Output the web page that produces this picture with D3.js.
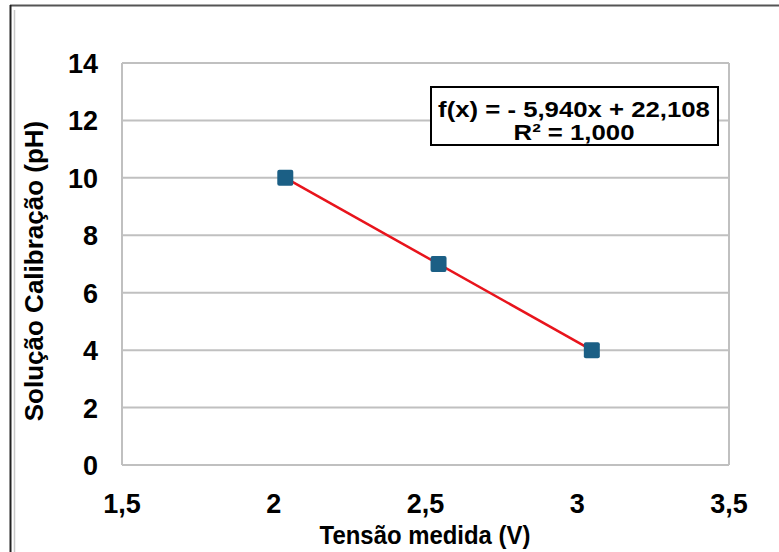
<!DOCTYPE html>
<html lang="pt">
<head>
<meta charset="utf-8">
<title>Calibração pH</title>
<script src="https://cdn.jsdelivr.net/npm/d3@7"></script>
<style>
  body { margin: 0; background: #fff; }
  text { font-family: "Liberation Sans", Arial, sans-serif; font-weight: bold; fill: #000; }
</style>
</head>
<body>
<svg id="chart" width="779" height="552"></svg>
<script>
// medições de calibração
const tensao = [2.038, 2.543, 3.048]
const ph = [10, 7, 4]
const xTicks = [1.5, 2, 2.5, 3, 3.5]
const yTicks = [0, 2, 4, 6, 8, 10, 12, 14]
const equacao = ["f(x) = - 5,940x + 22,108", "R² = 1,000"]

const svg = d3.select("#chart")
const fmt = d => String(d).replace(".", ",")

// moldura externa
svg.append("line").attr("x1", 10).attr("x2", 779).attr("y1", 5.5).attr("y2", 5.5)
  .attr("stroke", "#555").attr("stroke-width", 2)
svg.append("line").attr("x1", 10.5).attr("x2", 10.5).attr("y1", 5).attr("y2", 552)
  .attr("stroke", "#222").attr("stroke-width", 2)
svg.append("line").attr("x1", 14.5).attr("x2", 14.5).attr("y1", 10).attr("y2", 552)
  .attr("stroke", "#c8c8c8").attr("stroke-width", 1.5)

const x = d3.scaleLinear().domain([1.5, 3.5]).range([122, 729])
const y = d3.scaleLinear().domain([0, 14]).range([465, 63])

// grade
svg.append("g").selectAll("line").data(yTicks).join("line")
  .attr("x1", x(1.5)).attr("x2", x(3.5))
  .attr("y1", d => y(d)).attr("y2", d => y(d))
  .attr("stroke", "#c0c0c0").attr("stroke-width", 2)
svg.append("g").selectAll("line").data([1.5, 3.5]).join("line")
  .attr("x1", d => x(d)).attr("x2", d => x(d))
  .attr("y1", y(14)).attr("y2", y(0))
  .attr("stroke", "#c0c0c0").attr("stroke-width", 2)

// eixos
svg.append("g").selectAll("text").data(yTicks).join("text")
  .attr("x", 98).attr("y", d => y(d) + 10)
  .attr("text-anchor", "end").attr("font-size", 27)
  .text(d => d)
svg.append("g").selectAll("text").data(xTicks).join("text")
  .attr("x", d => x(d)).attr("y", 513)
  .attr("text-anchor", "middle").attr("font-size", 27)
  .text(fmt)

svg.append("text")
  .attr("transform", "translate(425,544) scale(0.92,1)")
  .attr("text-anchor", "middle").attr("font-size", 26)
  .text("Tensão medida (V)")
svg.append("text")
  .attr("transform", "translate(43,271) rotate(-90)")
  .attr("text-anchor", "middle").attr("font-size", 26)
  .text("Solução Calibração (pH)")

// linha de tendência
const pts = tensao.map((t, i) => [t, ph[i]])
svg.append("line")
  .attr("x1", x(pts[0][0])).attr("y1", y(pts[0][1]))
  .attr("x2", x(pts[2][0])).attr("y2", y(pts[2][1]))
  .attr("stroke", "#e8141c").attr("stroke-width", 2.5)

svg.append("g").selectAll("rect").data(pts).join("rect")
  .attr("x", d => x(d[0]) - 8).attr("y", d => y(d[1]) - 8)
  .attr("width", 16).attr("height", 16).attr("rx", 2)
  .attr("fill", "#1b5f85")

// caixa da equação
svg.append("rect").attr("x", 431).attr("y", 87).attr("width", 287).attr("height", 58)
  .attr("fill", "#fff").attr("stroke", "#000").attr("stroke-width", 2)
svg.append("g").selectAll("text").data(equacao).join("text")
  .attr("transform", (d, i) => `translate(574,${117 + i * 23}) scale(1.17,1)`)
  .attr("text-anchor", "middle").attr("font-size", 22)
  .text(d => d)
</script>
</body>
</html>
